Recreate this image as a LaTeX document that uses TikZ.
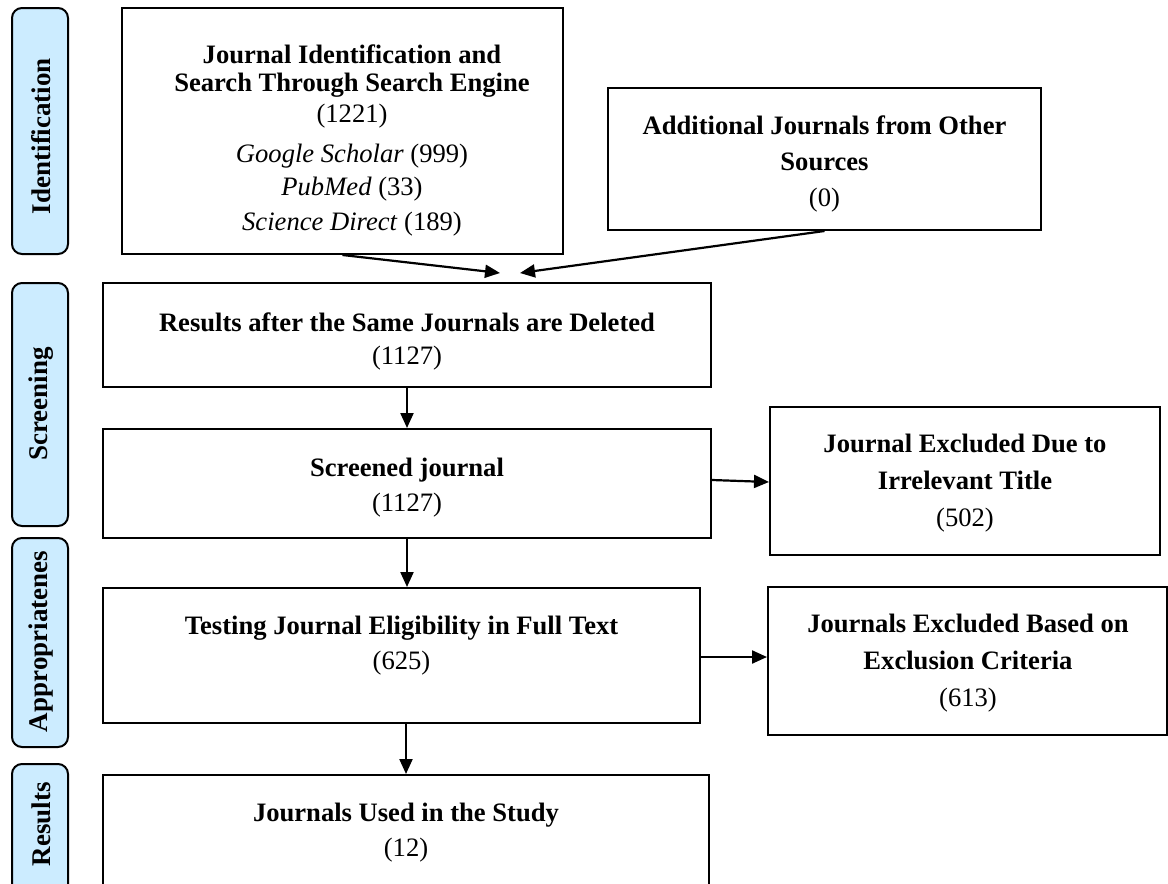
\documentclass[tikz,border=0pt]{standalone}
\usepackage{fontspec}
\setmainfont{Liberation Serif}
\usetikzlibrary{arrows.meta,calc}
\definecolor{pillblue}{RGB}{204,236,255}
\begin{document}
\begin{tikzpicture}[x=1pt,y=-1pt,
  box/.style={draw, line width=2pt, inner sep=0pt, rectangle},
  pill/.style={draw, line width=2pt, fill=pillblue, rounded corners=10pt, rotate=90, inner sep=0pt,
    font=\fontsize{27}{32}\selectfont\bfseries},
  side/.style={rotate=90, inner sep=0pt, font=\fontsize{27}{32}\selectfont\bfseries},
  lbl/.style={anchor=north, align=center, inner sep=0pt},
  arr/.style={line width=2.2pt, -{Triangle[length=15pt,width=13pt]}},
]
\clip (0,0) rectangle (1168,884);
\fill[white] (0,0) rectangle (1168,884);

% side pills
\node[pill, minimum width=246pt, minimum height=56pt] (p1) at (40,131) {};
\node[side] (p1t) at (41,136) {Identification};
\node[pill, minimum width=243pt, minimum height=56pt] (p2) at (40,404.5) {};
\node[side] (p2t) at (41,404) {Screening};
\node[pill, minimum width=209pt, minimum height=56pt] (p3) at (40,642.5) {};
\node[side] (p3t) at (41,641.5) {Appropriatenes};
\node[pill, minimum width=146pt, minimum height=56pt] (p4) at (40,837) {};
\node[side] (p4t) at (41,824) {Results};

% boxes
\node[box, minimum width=441pt, minimum height=246pt] (b1) at (342.5,131) {};
\node[box, minimum width=433pt, minimum height=142pt] (b2) at (824.5,159) {};
\node[box, minimum width=608pt, minimum height=104pt] (b3) at (407,335) {};
\node[box, minimum width=608pt, minimum height=109pt] (b4) at (407,483.5) {};
\node[box, minimum width=597pt, minimum height=135pt] (b5) at (401.5,655.5) {};
\node[box, minimum width=606pt, minimum height=135pt] (b6) at (406,842.5) {};
\node[box, minimum width=390pt, minimum height=148pt] (ex1) at (965,481) {};
\node[box, minimum width=399pt, minimum height=148pt] (ex2) at (967.5,661) {};

% texts
\node[lbl, font=\fontsize{26.6}{31}\selectfont] (b1t) at (352,44.5)
  {\textbf{Journal Identification and}\\[-3pt]
   \textbf{Search Through Search Engine}\\
   (1221)\\[9pt]
   \textit{Google Scholar} (999)\\[2pt]
   \textit{PubMed} (33)\\[4pt]
   \textit{Science Direct} (189)};
\node[lbl, font=\fontsize{26.6}{36}\selectfont] (b2t) at (824.5,115.5)
  {\textbf{Additional Journals from Other}\\ \textbf{Sources}\\ (0)};
\node[lbl, font=\fontsize{26.6}{33}\selectfont] (b3t) at (407,312.5)
  {\textbf{Results after the Same Journals are Deleted}\\ (1127)};
\node[lbl, font=\fontsize{26.6}{35}\selectfont] (b4t) at (407,457.5)
  {\textbf{Screened journal}\\ (1127)};
\node[lbl, font=\fontsize{26.6}{35}\selectfont] (b5t) at (401.5,615.5)
  {\textbf{Testing Journal Eligibility in Full Text}\\ (625)};
\node[lbl, font=\fontsize{26.6}{35}\selectfont] (b6t) at (406,802.5)
  {\textbf{Journals Used in the Study}\\ (12)};
\node[lbl, font=\fontsize{26.6}{37}\selectfont] (ex1t) at (965,433.5)
  {\textbf{Journal Excluded Due to}\\ \textbf{Irrelevant Title}\\ (502)};
\node[lbl, font=\fontsize{26.6}{37}\selectfont] (ex2t) at (968,613.5)
  {\textbf{Journals Excluded Based on}\\ \textbf{Exclusion Criteria}\\ (613)};

% connectors
\coordinate (m1) at (500,273);
\coordinate (m2) at (520,273);
\draw[arr] (b1.south) -- (m1);
\draw[arr] (b2.south) -- (m2);
\draw[arr] (b3.south) -- (b4.north);
\draw[arr] (b4.south) -- (b4.south |- b5.north);
\draw[arr] (b5.south -| b6.north) -- (b6.north);
\draw[arr] ([yshift=3.5pt]b4.east) -- ([yshift=-1pt]ex1.west);
\draw[arr] ([yshift=-1.5pt]b5.east) -- ([yshift=-1.5pt]b5.east -| ex2.west);
\end{tikzpicture}
\end{document}
